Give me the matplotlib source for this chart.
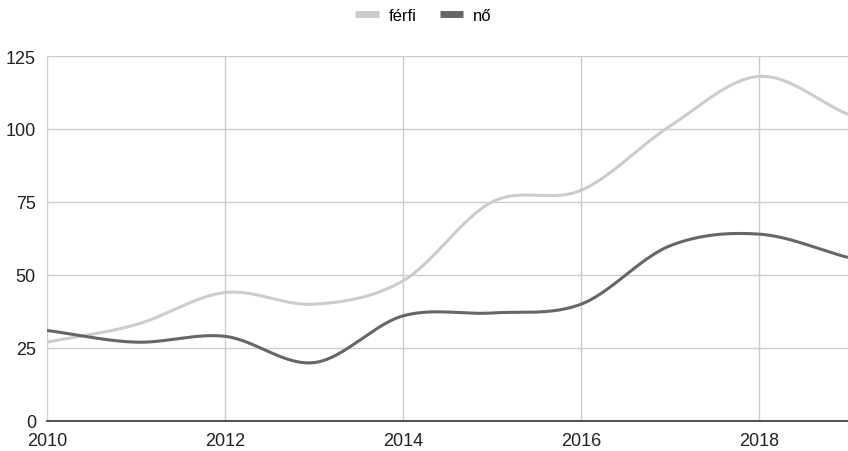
import numpy as np
import matplotlib.pyplot as plt

plt.rcParams['font.family'] = ['Liberation Sans', 'DejaVu Sans']

years = [2010, 2011, 2012, 2013, 2014, 2015, 2016, 2017, 2018, 2019]
ferfi = [27, 33, 44, 40, 48, 75, 79, 101, 118, 105]
no = [31, 27, 29, 20, 36, 37, 40, 60, 64, 56]

def smooth(x, y, n=30):
    # catmull-rom curve through the points
    x = np.asarray(x, float)
    y = np.asarray(y, float)
    px = np.concatenate([[2*x[0]-x[1]], x, [2*x[-1]-x[-2]]])
    py = np.concatenate([[2*y[0]-y[1]], y, [2*y[-1]-y[-2]]])
    xs, ys = [], []
    t = np.linspace(0, 1, n)
    for i in range(1, len(px)-2):
        for arr, out in ((px, xs), (py, ys)):
            p0, p1, p2, p3 = arr[i-1], arr[i], arr[i+1], arr[i+2]
            out.extend(0.5*((2*p1) + (-p0+p2)*t + (2*p0-5*p1+4*p2-p3)*t**2
                            + (-p0+3*p1-3*p2+p3)*t**3))
    return np.array(xs), np.array(ys)

fig = plt.figure(figsize=(8.48, 4.52), dpi=100)
ax = fig.add_axes([47/848, 30/452, 801/848, 365/452])

x1, y1 = smooth(years, ferfi)
x2, y2 = smooth(years, no)
ax.plot(x1, y1, color='#cccccc', lw=2.2, label='férfi', solid_capstyle='butt')
ax.plot(x2, y2, color='#666666', lw=2.2, label='nő', solid_capstyle='butt')

ax.set_xlim(2010, 2019)
ax.set_ylim(0, 125)
ax.set_xticks([2010, 2012, 2014, 2016, 2018])
ax.set_yticks([0, 25, 50, 75, 100, 125])
ax.grid(color='#cccccc', lw=1)
ax.set_axisbelow(True)
for s in ['top', 'right', 'left']:
    ax.spines[s].set_visible(False)
ax.spines['bottom'].set_color('#333333')
ax.spines['bottom'].set_linewidth(1.2)
ax.tick_params(length=0, labelsize=13, colors='#222222', pad=7)
ax.tick_params(axis='y', pad=8)
ax.tick_params(axis='x', pad=8)

ax.legend(loc='lower center', bbox_to_anchor=(0.5 - 24/801, 1.05), ncol=2, frameon=False,
          fontsize=12, handlelength=1.4, handletextpad=0.6, columnspacing=1.4)
for h in ax.get_legend().get_lines():
    h.set_linewidth(5)

plt.savefig('out.png', dpi=100)
